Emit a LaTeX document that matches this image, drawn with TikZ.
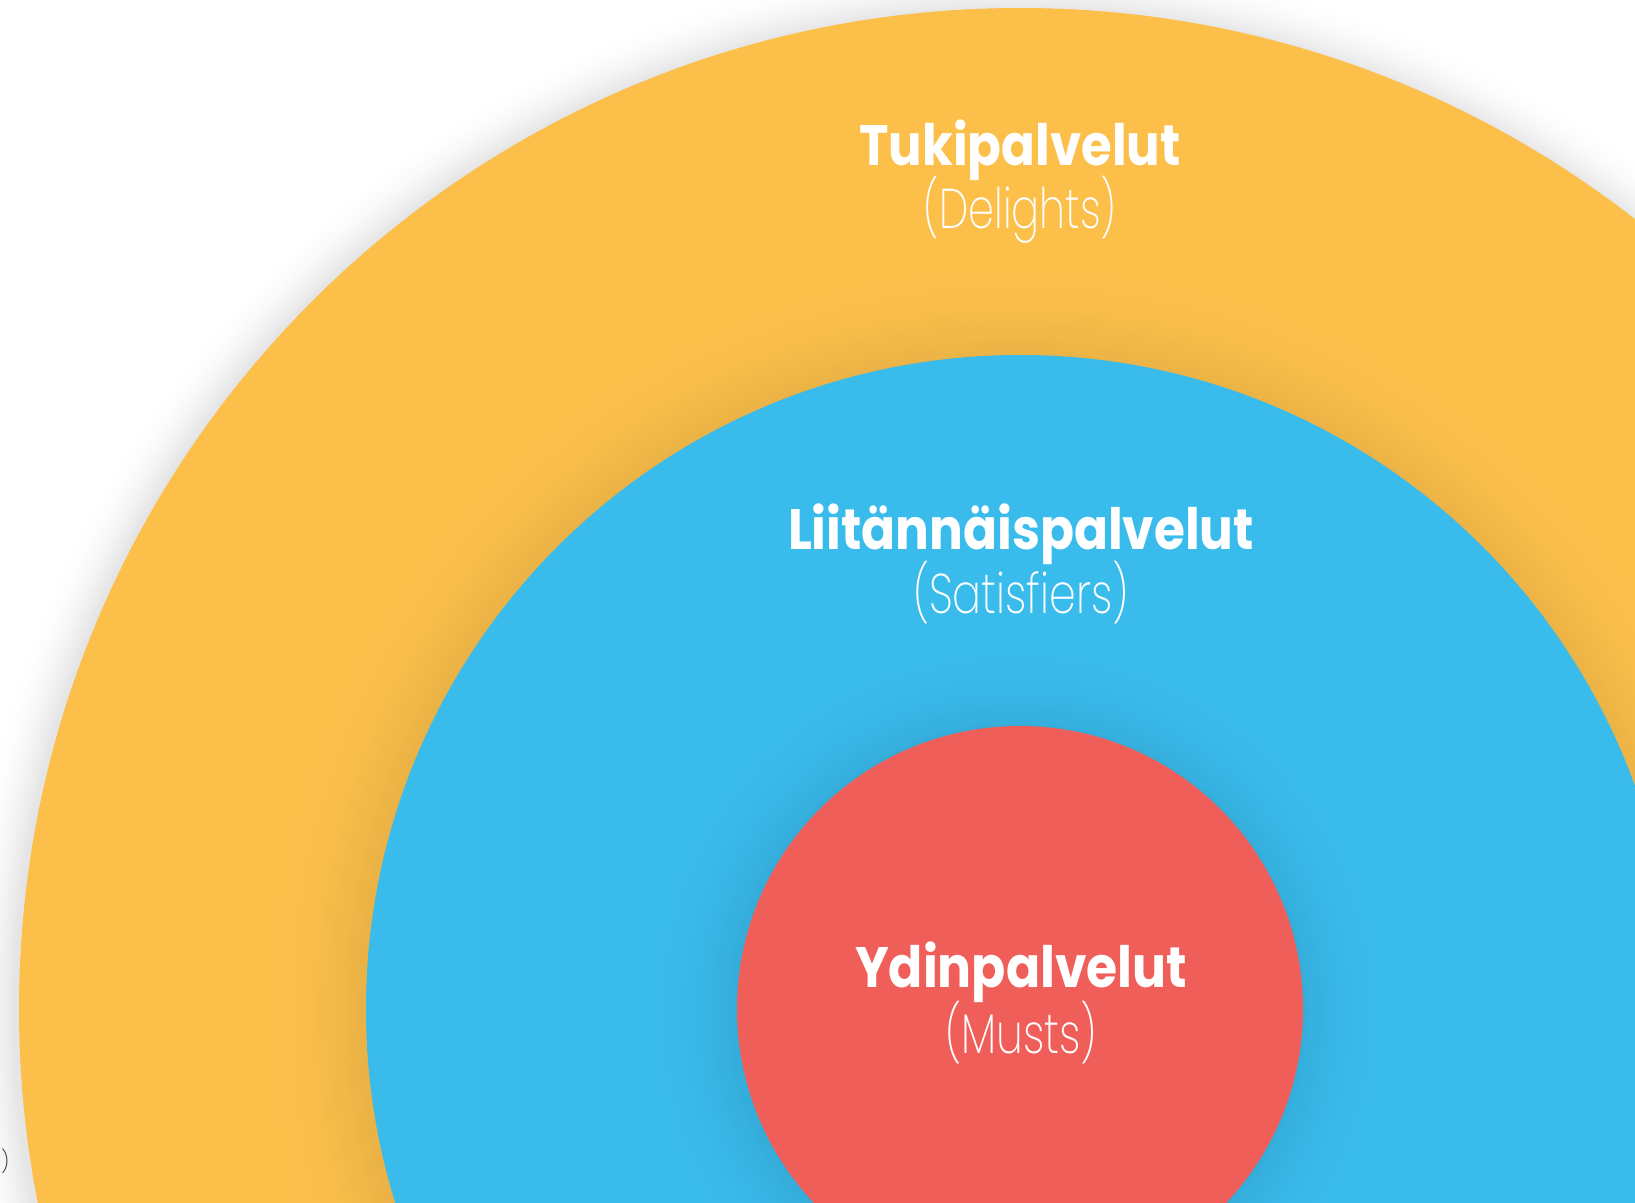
\documentclass[tikz,border=0pt]{standalone}
\usepackage{fontspec}
\setmainfont{Poppins}
\newfontfamily\lightf{Poppins}[UprightFont=* ExtraLight]
\definecolor{ringorange}{HTML}{FBBF4A}
\definecolor{ringblue}{HTML}{39BBEC}
\definecolor{ringred}{HTML}{F05E5A}
\definecolor{straygray}{HTML}{333333}
\colorlet{whiteA}{white!89!black}
\colorlet{orangeA}{ringorange!93!black}
\colorlet{blueA}{ringblue!92!black}
% center, radius, width, base colour, dark colour
\newcommand\myhalo[5]{%
  \foreach \k in {0,...,29}{%
    \pgfmathsetmacro\myt{1-\k/30}%
    \pgfmathsetmacro\myrr{#2+#3*\myt}%
    \pgfmathsetmacro\mypp{100*(1-\myt)^2}%
    \fill[#5!\mypp!#4] (#1) circle[radius=\myrr pt];
  }%
}
\newcommand\fitw[2]{\resizebox{#1pt}{\height}{#2}}
\tikzset{
  titletext/.style={text=white,inner sep=0pt,anchor=base,font=\fontsize{57}{60}\selectfont\bfseries},
  subtext/.style={text=white,inner sep=0pt,anchor=base,font=\fontsize{56}{60}\lightf},
}
\begin{document}
\begin{tikzpicture}[x=1pt,y=-1pt]
\useasboundingbox (0,0) rectangle (1635,1202);
\clip (0,0) rectangle (1635,1202);
\fill[white] (0,0) rectangle (1635,1202);
\coordinate (c) at (1020,1009);
\coordinate (cs) at (1017,1012);
% outer ring
\myhalo{cs}{1001}{55}{white}{whiteA}
\fill[ringorange] (c) circle[radius=1001pt];
% middle ring
\myhalo{cs}{654}{100}{ringorange}{orangeA}
\fill[ringblue] (c) circle[radius=654pt];
% inner disc
\myhalo{cs}{283}{90}{ringblue}{blueA}
\fill[ringred] (c) circle[radius=283pt];
% labels
\node[titletext] (t1) at (1020,165) {\fitw{321}{Tukipalvelut}};
\node[subtext] (s1) at (1020,228) {\fitw{193}{(Delights)}};
\node[titletext] (t2) at (1021,549) {\fitw{466}{Liitännäispalvelut}};
\node[subtext] (s2) at (1021,613) {\fitw{216}{(Satisfiers)}};
\node[titletext] (t3) at (1021,987) {\fitw{332}{Ydinpalvelut}};
\node[subtext] (s3) at (1021,1053) {\fitw{152}{(Musts)}};
\node[text=straygray,inner sep=0pt,font=\fontsize{22}{24}\lightf] (stray) at (5,1161) {)};
\end{tikzpicture}
\end{document}
